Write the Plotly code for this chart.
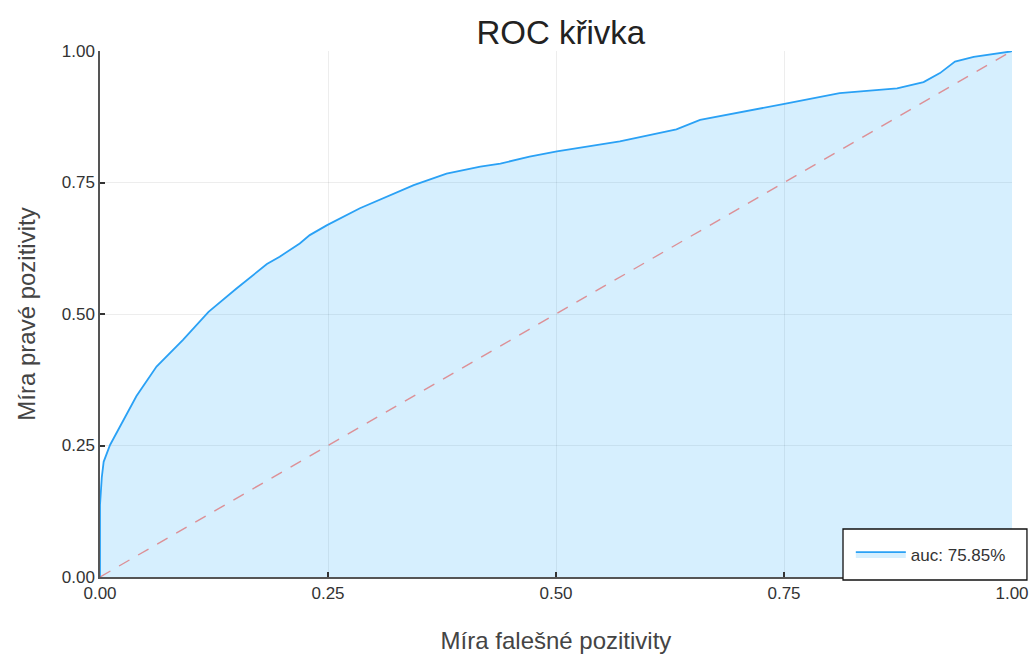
import plotly.graph_objects as go

# ROC curve: false positive rate vs. true positive rate
fpr = [0.0, 0.0, 0.002, 0.004, 0.011, 0.026, 0.040, 0.062, 0.091, 0.119, 0.150,
       0.183, 0.197, 0.219, 0.230, 0.249, 0.285, 0.344, 0.380, 0.417, 0.439,
       0.471, 0.501, 0.570, 0.632, 0.658, 0.702, 0.724, 0.749, 0.811, 0.874,
       0.903, 0.921, 0.9375, 0.958, 0.998, 1.0]
tpr = [0.0, 0.137, 0.19, 0.219, 0.251, 0.298, 0.344, 0.400, 0.451, 0.504, 0.549,
       0.595, 0.609, 0.634, 0.650, 0.669, 0.701, 0.745, 0.767, 0.780, 0.786,
       0.799, 0.809, 0.828, 0.851, 0.869, 0.883, 0.891, 0.899, 0.920, 0.929,
       0.941, 0.958, 0.980, 0.989, 0.999, 1.0]
auc_label = "auc: 75.85%"

diag = [0.0, 1.0]
ticks = [0.0, 0.25, 0.5, 0.75, 1.0]
tick_text = ["0.00", "0.25", "0.50", "0.75", "1.00"]

fig = go.Figure()
fig.add_trace(go.Scatter(
    x=fpr, y=tpr, mode="lines", name=auc_label,
    line=dict(color="#2aa1f5", width=1.8),
    fill="tozeroy", fillcolor="rgba(0,154,250,0.16)",
))
fig.add_trace(go.Scatter(
    x=diag, y=diag, mode="lines", showlegend=False,
    line=dict(color="rgba(225,80,80,0.6)", width=1.4, dash="12px,10px"),
))

axis_common = dict(
    range=[0, 1], tickvals=ticks, ticktext=tick_text,
    showgrid=True, gridcolor="rgba(0,0,0,0.07)", gridwidth=1,
    showline=True, linecolor="#555555", linewidth=1.5,
    ticks="inside", ticklen=5, tickwidth=1.5, tickcolor="#333333",
    zeroline=False, tickfont=dict(size=17, color="#333333"),
)

# framed box behind the legend entry
fig.add_shape(type="rect", xref="paper", yref="paper",
              x0=0.8147, x1=1.0164, y0=-0.0057, y1=0.0913,
              line=dict(color="#111111", width=1.3), fillcolor="white", layer="above")

fig.update_layout(
    width=1029, height=654,
    margin=dict(l=100, r=17, t=51, b=77, autoexpand=False),
    paper_bgcolor="white", plot_bgcolor="white",
    font=dict(family="Liberation Sans, Arial, sans-serif", color="#333333"),
    title=dict(text="ROC křivka", x=0.545, xanchor="center", y=0.95, yanchor="middle",
               font=dict(size=33, color="#222222")),
    xaxis=dict(**axis_common,
               title=dict(text="Míra falešné pozitivity", font=dict(size=24, color="#444444"),
                          standoff=30)),
    yaxis=dict(**axis_common,
               title=dict(text="Míra pravé pozitivity", font=dict(size=24, color="#444444"),
                          standoff=19)),
    legend=dict(x=0.911, xanchor="center", y=0.0428, yanchor="middle",
                bgcolor="rgba(0,0,0,0)", borderwidth=0, itemwidth=50,
                font=dict(size=17, color="#333333")),
    showlegend=True,
)

fig.write_html("out.html")
